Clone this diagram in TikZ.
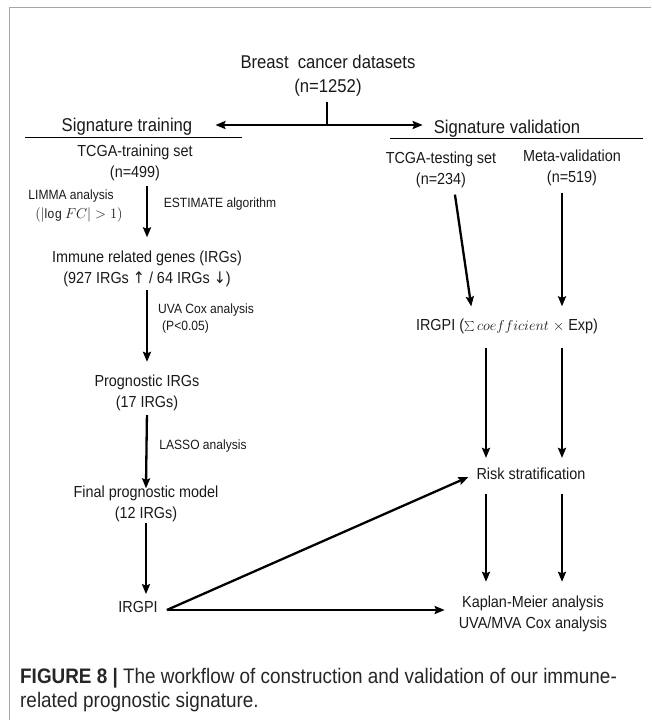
\documentclass[tikz,border=0pt]{standalone}
\usepackage{fontspec}
\setmainfont{Liberation Sans}[FakeStretch=0.9]
\newfontfamily\arrowfont{DejaVu Sans}[FakeStretch=0.9]
\usetikzlibrary{arrows.meta}
\begin{document}
\begin{tikzpicture}[x=1pt,y=-1pt,
  lbl/.style={inner sep=0pt, align=center, font=\fontsize{16}{21}\selectfont, text=black!90},
  ttl/.style={inner sep=0pt, align=center, font=\fontsize{18.5}{24}\selectfont, text=black!90},
  sml/.style={inner sep=0pt, align=center, font=\fontsize{13.4}{16}\selectfont, text=black!90},
  arr/.style={line width=2.3pt, -{Stealth[length=10pt,width=8pt,inset=1.5pt]}},
  plain/.style={line width=2.3pt},
  rulestyle/.style={line width=0.9pt},
  framestyle/.style={draw=black!35, line width=1pt},
  captext/.style={inner sep=0pt, anchor=base west, font=\fontsize{21}{24}\selectfont, text=black!85}]
\useasboundingbox (0,0) rectangle (651,720);
\draw[framestyle] (9,720) -- (9,7) -- (651,7);

% nodes
\node[ttl] (title) at (328,75.5) {Breast\ \ cancer datasets\\(n=1252)};
\node[ttl] (sigtrain) at (127,127) {Signature training};
\node[ttl] (sigval) at (507,128.5) {Signature validation};
\node[lbl] (train) at (135,163) {TCGA-training set\\(n=499)};
\node[lbl] (test) at (441,170) {TCGA-testing set\\(n=234)};
\node[lbl] (meta) at (572,168) {Meta-validation\\(n=519)};
\node[sml] (limma) at (71,196) {LIMMA analysis};
\node[sml] (logfc) at (79,215) {$(\left|\log FC\right| > 1)$};
\node[sml] (estimate) at (220,204) {ESTIMATE algorithm};
\node[lbl] (irg) at (147,268.5) {Immune related genes (IRGs)\\(927 IRGs {\arrowfont ↑}\ / 64 IRGs {\arrowfont ↓})};
\node[sml] (uva) at (206,310) {UVA Cox analysis};
\node[sml, anchor=west] (pval) at (162,327) {(P<0.05)};
\node[lbl] (prog) at (147,392.5) {Prognostic IRGs\\(17 IRGs)};
\node[sml] (lasso) at (203,446) {LASSO analysis};
\node[lbl] (final) at (146,503.5) {Final prognostic model\\(12 IRGs)};
\node[lbl] (irgpi) at (138,607) {IRGPI};
\node[lbl] (irgpisum) at (507,326) {IRGPI ({\fontsize{14}{16}\selectfont\(\textstyle\sum coefficient\)} {\fontsize{14}{16}\selectfont\(\times\)} Exp)};
\node[lbl] (risk) at (531,474) {Risk stratification};
\node[lbl] (km) at (533,613.5) {Kaplan-Meier analysis\\UVA/MVA Cox analysis};
\node[captext] (cap1) at (20,683) {\textbf{FIGURE 8 |} The workflow of construction and validation of our immune-};
\node[captext] (cap2) at (20,707) {related prognostic signature.};

% underlines
\draw[rulestyle] (25,137) -- (242,137);
\draw[rulestyle] (390,138.5) -- (643,138.5);

% split
\coordinate (split) at (327,125);
\draw[plain, shorten <=6pt] (title.south -| split) -- (split);
\draw[arr, shorten >=23pt] (split) -- (split -| sigtrain.east);
\draw[arr, shorten >=11pt] (split) -- (split -| sigval.west);

% left column
\draw[arr, shorten <=5pt, shorten >=13pt] (train.south -| irg.north) -- (irg.north);
\draw[arr, shorten <=3.5pt, shorten >=12.5pt] (irg.south) -- (prog.north);
\draw[arr, shorten <=4.5pt, shorten >=-3pt] (prog.south) -- (final.north);
\draw[arr, shorten <=1.5pt, shorten >=7pt] (final.south) -- (final.south |- irgpi.north);

% IRGPI out
\draw[arr] ([xshift=9pt,yshift=-3pt]irgpi.east) -- ([xshift=-8pt,yshift=-3pt]risk.west);
\draw[arr, shorten >=14pt] ([xshift=9pt,yshift=-3pt]irgpi.east) -- ([yshift=-3pt]irgpi.east -| km.west);

% right column
\draw[arr, shorten <=6.5pt, shorten >=12pt] ([xshift=13pt]test.south) -- ([xshift=-34pt]irgpisum.north);
\draw[arr, shorten <=6.5pt, shorten >=12pt] ([xshift=-10pt]meta.south) -- ([xshift=55pt]irgpisum.north);
\draw[arr, shorten <=14pt, shorten >=10pt] ([xshift=-21pt]irgpisum.south) -- ([xshift=-45pt]risk.north);
\draw[arr, shorten <=14pt, shorten >=10pt] ([xshift=55pt]irgpisum.south) -- ([xshift=31pt]risk.north);
\draw[arr, shorten <=13.5pt, shorten >=13.5pt] ([xshift=-45pt]risk.south) -- ([xshift=-47pt]km.north);
\draw[arr, shorten <=13.5pt, shorten >=13.5pt] ([xshift=31pt]risk.south) -- ([xshift=29pt]km.north);
\end{tikzpicture}
\end{document}
